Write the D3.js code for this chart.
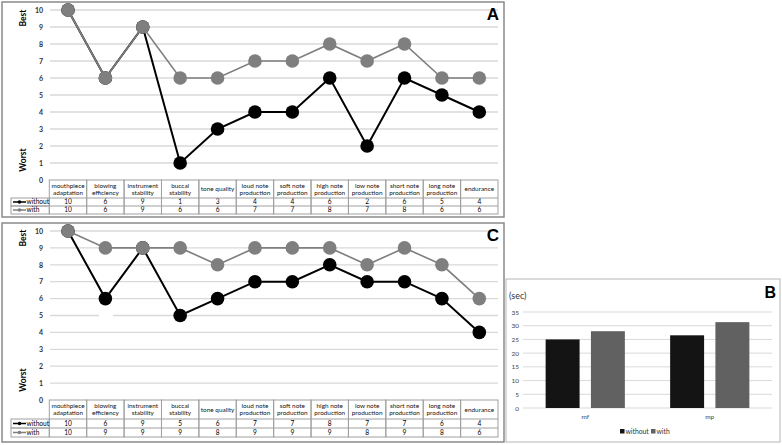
<!DOCTYPE html>
<html><head><meta charset="utf-8">
<script src="https://cdn.jsdelivr.net/npm/d3@7/dist/d3.min.js"></script>
<style>body{margin:0;background:#fff}svg{display:block;font-family:Lato,"Liberation Sans",Arial,sans-serif}</style>
</head><body><svg id="c" width="782" height="445"></svg>
<script>
const categories = ["mouthpiece\nadaptation","blowing\nefficiency","instrument\nstability","buccal\nstability","tone quality","loud note\nproduction","soft note\nproduction","high note\nproduction","low note\nproduction","short note\nproduction","long note\nproduction","endurance"];
const A_without = [10,6,9,1,3,4,4,6,2,6,5,4];
const A_with    = [10,6,9,6,6,7,7,8,7,8,6,6];
const C_without = [10,6,9,5,6,7,7,8,7,7,6,4];
const C_with    = [10,9,9,9,8,9,9,9,8,9,8,6];
const scoreTicks = [0,1,2,3,4,5,6,7,8,9,10];
const seriesNames = ["without","with"];
const B_categories = ["mf","mp"];
const B_without = [25,26.5];
const B_with = [28,31.3];
const secTicks = [0,5,10,15,20,25,30,35];

const svg = d3.select("#c");
const colW = "#000", colG = "#7f7f7f", grid = "#d9d9d9";

function linePanel(p){
  const g = svg.append("g");
  g.append("rect").attr("x",p.fx).attr("y",p.fy).attr("width",p.fw).attr("height",p.fh)
    .attr("fill","#fff").attr("stroke","#8a8a8a").attr("stroke-width",1.5);
  const x = d3.scaleBand().domain(categories).range([49.3,498]);
  const y = d3.scaleLinear().domain([0,10]).range([p.y0,p.y10]);
  // gridlines
  g.selectAll(".gl").data(scoreTicks.filter(d=>d>0)).join("line")
    .attr("x1",50).attr("x2",498).attr("y1",d=>y(d)).attr("y2",d=>y(d))
    .attr("stroke",grid).attr("stroke-width",1.3);
  if(p.gap) g.append("rect").attr("x",p.gap[0]).attr("width",p.gap[1]-p.gap[0]).attr("y",y(5)-1.5).attr("height",3).attr("fill","#fff");
  // y tick labels
  const ax = d3.axisLeft(y).tickValues(scoreTicks).tickSize(0).tickPadding(0);
  const axg = g.append("g").attr("transform","translate(43,0)").call(ax);
  axg.select(".domain").remove();
  axg.selectAll("text").attr("font-size",7).attr("font-weight","bold").attr("fill","#333").attr("font-family","Lato,Arial,sans-serif");
  // Best / Worst
  g.append("text").attr("transform",`translate(26,${p.best}) rotate(-90)`).attr("text-anchor","middle")
    .attr("font-size",8.5).attr("font-weight","bold").text("Best");
  g.append("text").attr("transform",`translate(26,${p.worst}) rotate(-90)`).attr("text-anchor","middle")
    .attr("font-size",8.5).attr("font-weight","bold").text("Worst");
  // panel letter
  g.append("text").attr("x",499).attr("y",p.y10+10).attr("text-anchor","end").attr("font-size",17)
    .attr("font-weight","bold").attr("font-family","Liberation Sans,Arial,sans-serif").text(p.letter);
  // series
  const series = [{name:"without",vals:p.without,c:colW,w:2},{name:"with",vals:p.with,c:colG,w:1.6}];
  const line = d3.line().x((d,i)=>x(categories[i])+x.bandwidth()/2).y(d=>y(d));
  series.forEach(s=>{
    g.append("path").attr("d",line(s.vals)).attr("fill","none").attr("stroke",s.c).attr("stroke-width",s.w);
    g.selectAll(null).data(s.vals).join("circle")
      .attr("cx",(d,i)=>x(categories[i])+x.bandwidth()/2).attr("cy",d=>y(d)).attr("r",6.8).attr("fill",s.c);
  });
  // table
  const t = g.append("g");
  const bc = "#a0a0a0";
  const top = p.tTop, hb = p.tHead, r1 = p.tR1, r2 = p.tR2;
  categories.forEach((c,i)=>{
    const x0 = x(c), w = x.bandwidth();
    t.append("rect").attr("x",x0).attr("y",top).attr("width",w).attr("height",r2-top).attr("fill","none").attr("stroke",bc).attr("stroke-width",1);
    const lines = c.split("\n");
    lines.forEach((l,k)=>{
      t.append("text").attr("x",x0+w/2).attr("y",(top+hb)/2+2.3+(k-(lines.length-1)/2)*7.2)
        .attr("text-anchor","middle").attr("font-size",6.4).attr("fill","#111").text(l);
    });
    t.append("text").attr("x",x0+w/2).attr("y",(hb+r1)/2+2.4).attr("text-anchor","middle").attr("font-size",6.6).text(p.without[i]);
    t.append("text").attr("x",x0+w/2).attr("y",(r1+r2)/2+2.4).attr("text-anchor","middle").attr("font-size",6.6).text(p.with[i]);
  });
  [[hb,r1],[r1,r2]].forEach(([a,b])=>{
    t.append("rect").attr("x",11).attr("y",a).attr("width",49.3-11).attr("height",b-a).attr("fill","none").attr("stroke",bc).attr("stroke-width",1);
  });
  [hb,r1].forEach(yy=>t.append("line").attr("x1",49.3).attr("x2",498).attr("y1",yy).attr("y2",yy).attr("stroke",bc).attr("stroke-width",1));
  [[hb,r1,colW,"without"],[r1,r2,colG,"with"]].forEach(([a,b,c,n])=>{
    const cy=(a+b)/2;
    t.append("line").attr("x1",13).attr("x2",26).attr("y1",cy).attr("y2",cy).attr("stroke",c).attr("stroke-width",1.5);
    t.append("circle").attr("cx",19.5).attr("cy",cy).attr("r",1.8).attr("fill",c);
    t.append("text").attr("x",26.5).attr("y",cy+2.3).attr("font-size",6.6).text(n);
  });
}

linePanel({fx:2,fy:2,fw:502,fh:215,y0:180,y10:10,best:18,worst:160,letter:"A",
  without:A_without,with:A_with,tTop:180,tHead:198,tR1:206,tR2:214});
linePanel({fx:2,fy:223,fw:502,fh:219,y0:400,y10:231,best:238,worst:380,letter:"C",
  without:C_without,with:C_with,tTop:400,tHead:419,tR1:428,tR2:437,gap:[99,113]});

// Panel B
(function(){
  const g = svg.append("g");
  g.append("rect").attr("x",506).attr("y",279).attr("width",274).attr("height",163)
    .attr("fill","#fff").attr("stroke","#b5b5b5").attr("stroke-width",1);
  const y = d3.scaleLinear().domain([0,35]).range([408,312]);
  const x = d3.scaleBand().domain(B_categories).range([523,772]);
  const xs = d3.scaleBand().domain(seriesNames).range([0,x.bandwidth()]).paddingInner(0.25).paddingOuter(0.5);
  g.selectAll(".gl").data(secTicks).join("line").attr("x1",523).attr("x2",772)
    .attr("y1",d=>y(d)).attr("y2",d=>y(d)).attr("stroke",grid).attr("stroke-width",1);
  const ax = d3.axisLeft(y).tickValues(secTicks).tickSize(0).tickPadding(0);
  const axg = g.append("g").attr("transform","translate(519,0)").call(ax);
  axg.select(".domain").remove();
  axg.selectAll("text").attr("font-size",6.5).attr("fill","#444").attr("font-family","Lato,Arial,sans-serif");
  const cols = {without:"#141414",with:"#616161"};
  const data = B_categories.map((c,i)=>({c,vals:[{s:"without",v:B_without[i]},{s:"with",v:B_with[i]}]}));
  data.forEach(d=>{
    g.selectAll(null).data(d.vals).join("rect")
      .attr("x",v=>x(d.c)+xs(v.s)).attr("width",xs.bandwidth())
      .attr("y",v=>y(v.v)).attr("height",v=>y(0)-y(v.v)).attr("fill",v=>cols[v.s]);
  });
  g.selectAll(".xl").data(B_categories).join("text").attr("x",d=>x(d)+x.bandwidth()/2).attr("y",419)
    .attr("text-anchor","middle").attr("font-size",6.5).attr("fill","#444").text(d=>d);
  g.append("text").attr("x",509).attr("y",299).attr("font-size",9).attr("fill","#333").text("(sec)");
  g.append("text").attr("x",776).attr("y",298).attr("text-anchor","end").attr("font-size",16)
    .attr("font-weight","bold").attr("font-family","Liberation Sans,Arial,sans-serif").text("B");
  const lg = [{s:"without",x:620},{s:"with",x:651}];
  lg.forEach(l=>{
    g.append("rect").attr("x",l.x).attr("y",429).attr("width",4.5).attr("height",4.5).attr("fill",cols[l.s]);
    g.append("text").attr("x",l.x+5.5).attr("y",434).attr("font-size",6.8).attr("fill","#333").text(l.s);
  });
})();
</script></body></html>
